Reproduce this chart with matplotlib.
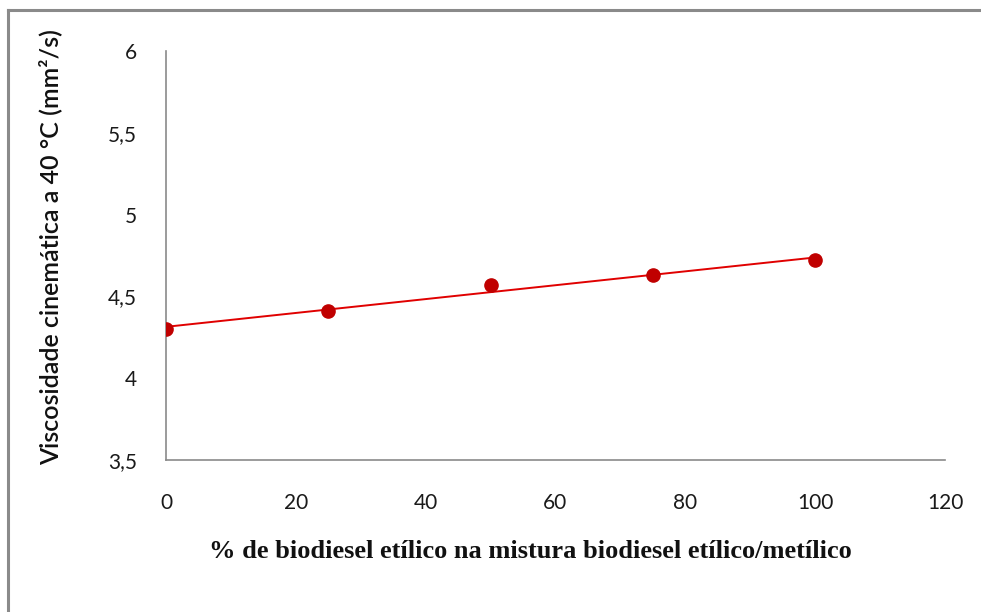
import numpy as np
import matplotlib
matplotlib.use("Agg")
import matplotlib.pyplot as plt
from matplotlib.lines import Line2D

# Ethyl biodiesel fraction in the ethyl/methyl blend (%) and kinematic viscosity at 40 °C
pct_etilico = [0, 25, 50, 75, 100]
viscosidade = [4.30, 4.41, 4.57, 4.63, 4.72]

x_ticks = [0, 20, 40, 60, 80, 100, 120]
x_tick_labels = ["0", "20", "40", "60", "80", "100", "120"]
y_ticks = [3.5, 4.0, 4.5, 5.0, 5.5, 6.0]
y_tick_labels = ["3,5", "4", "4,5", "5", "5,5", "6"]

fig = plt.figure(figsize=(9.81, 6.12), dpi=100)
fig.patch.set_facecolor("white")

# outer chart frame (left and top edges visible)
fig.add_artist(Line2D([8 / 981, 8 / 981], [0, 1 - 10 / 612], color="#8a8a8a", lw=2.2,
                      transform=fig.transFigure))
fig.add_artist(Line2D([8 / 981, 1], [1 - 10 / 612, 1 - 10 / 612], color="#8a8a8a", lw=2.2,
                      transform=fig.transFigure))

ax = fig.add_axes([166 / 981, 1 - 460 / 612, (945 - 166) / 981, (460 - 51) / 612])

# linear trendline through the data
coef = np.polyfit(pct_etilico, viscosidade, 1)
xt = np.array([min(pct_etilico), max(pct_etilico)])
ax.plot(xt, np.polyval(coef, xt), color="#e00000", lw=1.4, zorder=2)

ax.plot(pct_etilico, viscosidade, linestyle="none", marker="o", markersize=9.5,
        color="#c00000", markeredgecolor="#c00000", zorder=3)

ax.set_xlim(0, 120)
ax.set_ylim(3.5, 6.0)
ax.set_xticks(x_ticks)
ax.set_xticklabels(x_tick_labels)
ax.set_yticks(y_ticks)
ax.set_yticklabels(y_tick_labels)

for side in ("top", "right"):
    ax.spines[side].set_visible(False)
for side in ("left", "bottom"):
    ax.spines[side].set_color("#8a8a8a")
    ax.spines[side].set_linewidth(1.2)

ax.tick_params(axis="both", length=0, colors="#1a1a1a")
ax.tick_params(axis="y", pad=21, labelsize=15)
ax.tick_params(axis="x", pad=24, labelsize=15)
for lab in ax.get_yticklabels() + ax.get_xticklabels():
    lab.set_fontfamily("Lato")

ax.set_xlabel("% de biodiesel etílico na mistura biodiesel etílico/metílico",
              fontfamily="Liberation Serif", fontweight="bold", fontsize=19,
              color="#111111", va="center")
ax.xaxis.set_label_coords(0.468, -0.2225)
ax.set_ylabel("Viscosidade cinemática a 40 °C (mm²/s)", fontfamily="Lato",
              fontweight="semibold", fontsize=18, color="#111111", va="center")
ax.yaxis.set_label_coords(-0.149, 0.52)

fig.savefig("out.png", dpi=100, facecolor="white")
